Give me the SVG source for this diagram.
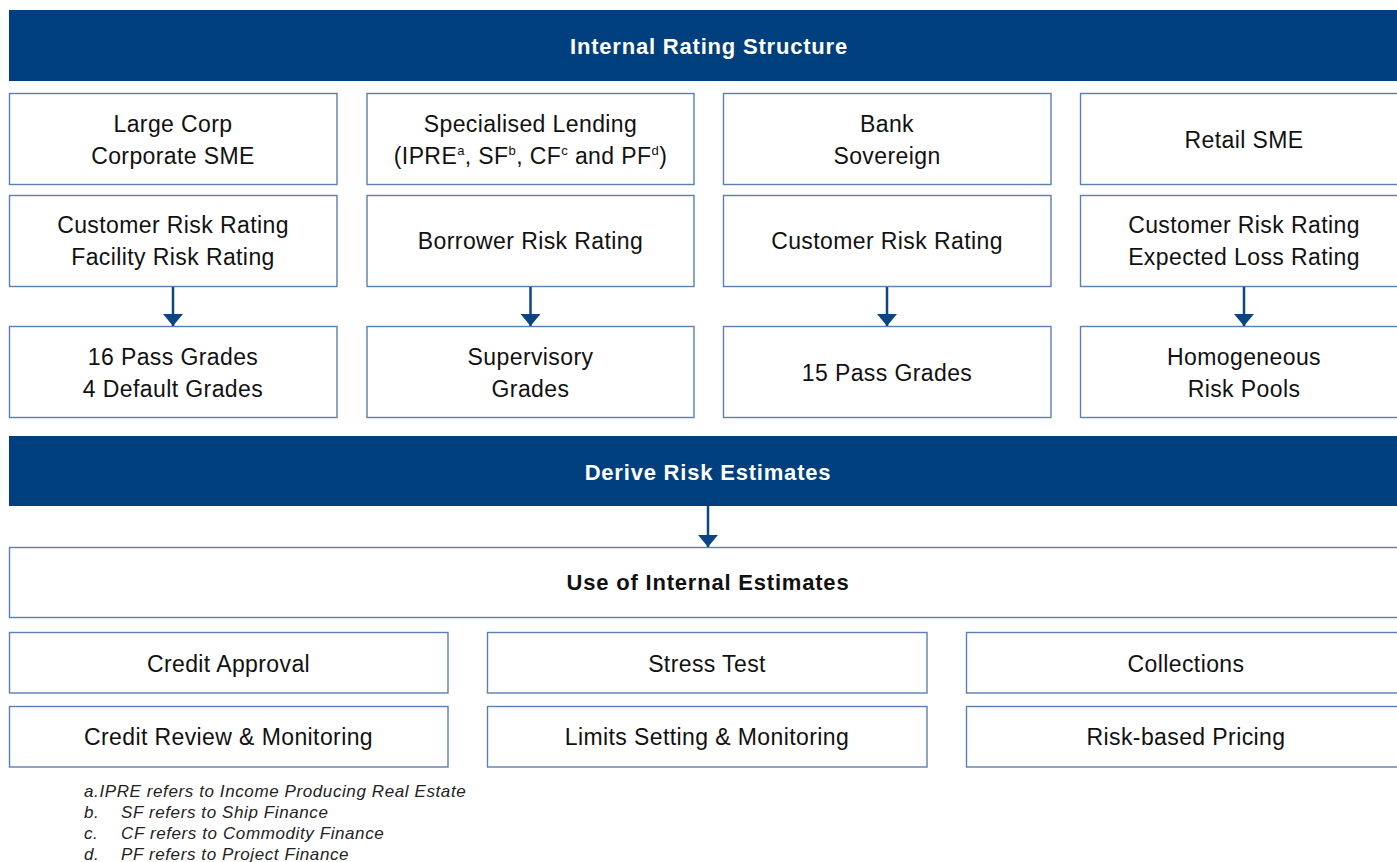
<svg xmlns="http://www.w3.org/2000/svg" width="1397" height="862" viewBox="0 0 1397 862">
<style>
.band{fill:#003f7d;}
.box{fill:#ffffff;stroke:#5a7fb0;stroke-width:1.4;}
.t{font-family:"Liberation Sans",Arial,sans-serif;font-size:23px;fill:#111;text-anchor:middle;letter-spacing:0.4px;}
.h{font-family:"Liberation Sans",Arial,sans-serif;font-size:22px;font-weight:bold;fill:#ffffff;text-anchor:middle;letter-spacing:0.8px;}
.hb{font-family:"Liberation Sans",Arial,sans-serif;font-size:22px;font-weight:bold;fill:#111;text-anchor:middle;letter-spacing:0.8px;}
.sup{font-size:13px;}
.fn{font-family:"Liberation Sans",Arial,sans-serif;font-size:17px;font-style:italic;fill:#222;letter-spacing:0.6px;}
.conn{stroke:#0b4585;stroke-width:2.5;fill:none;}
</style>
<defs>
<marker id="ah" markerWidth="12" markerHeight="20" refX="12" refY="10" orient="auto" markerUnits="userSpaceOnUse" viewBox="0 0 12 20">
<path d="M0,0 L12,10 L0,20 Z" fill="#0b4585"/>
</marker>
</defs>

<g id="header-rating">
<rect class="band" x="9" y="10" width="1400" height="71"/>
<text class="h" x="709" y="53.5">Internal Rating Structure</text>
</g>

<g id="n-largecorp"><rect class="box" x="9.5" y="93.5" width="327.5" height="91"/>
<text class="t" x="173" y="131.5">Large Corp</text><text class="t" x="173" y="163.5">Corporate SME</text></g>
<g id="n-speclending"><rect class="box" x="367" y="93.5" width="327" height="91"/>
<text class="t" x="530.5" y="131.5">Specialised Lending</text>
<text class="t" x="530.5" y="163.5">(IPRE<tspan class="sup" dy="-9">a</tspan><tspan dy="9">, SF</tspan><tspan class="sup" dy="-9">b</tspan><tspan dy="9">, CF</tspan><tspan class="sup" dy="-9">c</tspan><tspan dy="9"> and PF</tspan><tspan class="sup" dy="-9">d</tspan><tspan dy="9">)</tspan></text></g>
<g id="n-bank"><rect class="box" x="723.5" y="93.5" width="327.5" height="91"/>
<text class="t" x="887" y="131.5">Bank</text><text class="t" x="887" y="163.5">Sovereign</text></g>
<g id="n-retail"><rect class="box" x="1080.5" y="93.5" width="327" height="91"/>
<text class="t" x="1244" y="147.5">Retail SME</text></g>

<g id="n-crr-frr"><rect class="box" x="9.5" y="195.5" width="327.5" height="91"/>
<text class="t" x="173" y="233">Customer Risk Rating</text><text class="t" x="173" y="265">Facility Risk Rating</text></g>
<g id="n-brr"><rect class="box" x="367" y="195.5" width="327" height="91"/>
<text class="t" x="530.5" y="249">Borrower Risk Rating</text></g>
<g id="n-crr"><rect class="box" x="723.5" y="195.5" width="327.5" height="91"/>
<text class="t" x="887" y="249">Customer Risk Rating</text></g>
<g id="n-crr-elr"><rect class="box" x="1080.5" y="195.5" width="327" height="91"/>
<text class="t" x="1244" y="233">Customer Risk Rating</text><text class="t" x="1244" y="265">Expected Loss Rating</text></g>

<g id="n-16pass"><rect class="box" x="9.5" y="326.5" width="327.5" height="91"/>
<text class="t" x="173" y="365">16 Pass Grades</text><text class="t" x="173" y="397">4 Default Grades</text></g>
<g id="n-supervisory"><rect class="box" x="367" y="326.5" width="327" height="91"/>
<text class="t" x="530.5" y="365">Supervisory</text><text class="t" x="530.5" y="397">Grades</text></g>
<g id="n-15pass"><rect class="box" x="723.5" y="326.5" width="327.5" height="91"/>
<text class="t" x="887" y="381">15 Pass Grades</text></g>
<g id="n-pools"><rect class="box" x="1080.5" y="326.5" width="327" height="91"/>
<text class="t" x="1244" y="365">Homogeneous</text><text class="t" x="1244" y="397">Risk Pools</text></g>

<g id="header-derive">
<rect class="band" x="9" y="436" width="1400" height="70"/>
<text class="h" x="708" y="479.5">Derive Risk Estimates</text>
</g>

<g id="n-use"><rect class="box" x="9.5" y="547.5" width="1400" height="70"/>
<text class="hb" x="708" y="590">Use of Internal Estimates</text></g>

<g id="n-credit-approval"><rect class="box" x="9.5" y="632.5" width="438.5" height="60.5"/>
<text class="t" x="228.5" y="671.5">Credit Approval</text></g>
<g id="n-stress"><rect class="box" x="487.5" y="632.5" width="439.5" height="60.5"/>
<text class="t" x="707" y="671.5">Stress Test</text></g>
<g id="n-collections"><rect class="box" x="966.5" y="632.5" width="440" height="60.5"/>
<text class="t" x="1186" y="671.5">Collections</text></g>
<g id="n-review"><rect class="box" x="9.5" y="706.5" width="438.5" height="60.5"/>
<text class="t" x="228.5" y="745">Credit Review &amp; Monitoring</text></g>
<g id="n-limits"><rect class="box" x="487.5" y="706.5" width="439.5" height="60.5"/>
<text class="t" x="707" y="745">Limits Setting &amp; Monitoring</text></g>
<g id="n-pricing"><rect class="box" x="966.5" y="706.5" width="440" height="60.5"/>
<text class="t" x="1186" y="745">Risk-based Pricing</text></g>

<g id="connectors">
<line class="conn" x1="173" y1="287" x2="173" y2="326" marker-end="url(#ah)"/>
<line class="conn" x1="530.5" y1="287" x2="530.5" y2="326" marker-end="url(#ah)"/>
<line class="conn" x1="887" y1="287" x2="887" y2="326" marker-end="url(#ah)"/>
<line class="conn" x1="1244" y1="287" x2="1244" y2="326" marker-end="url(#ah)"/>
<line class="conn" x1="708" y1="506" x2="708" y2="547" marker-end="url(#ah)"/>
</g>

<g id="footnotes">
<text class="fn" x="84" y="797">a.IPRE refers to Income Producing Real Estate</text>
<text class="fn" x="84" y="818">b.</text><text class="fn" x="121" y="818">SF refers to Ship Finance</text>
<text class="fn" x="84" y="839">c.</text><text class="fn" x="121" y="839">CF refers to Commodity Finance</text>
<text class="fn" x="84" y="860">d.</text><text class="fn" x="121" y="860">PF refers to Project Finance</text>
</g>
</svg>
